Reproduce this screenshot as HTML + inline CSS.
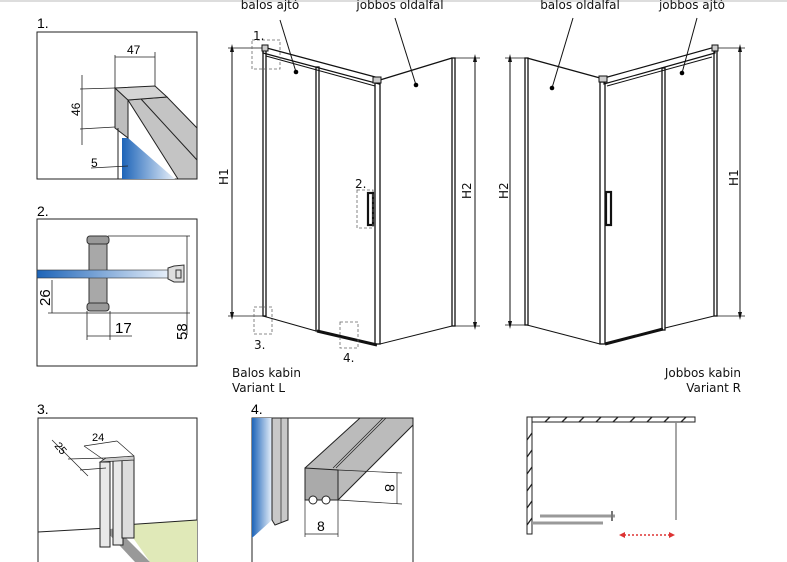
<!DOCTYPE html>
<html><head><meta charset="utf-8"><style>
body{margin:0;background:#fff;}
svg{display:block;font-family:"Liberation Sans",sans-serif;}
.t{font-family:"DejaVu Sans","Liberation Sans",sans-serif;font-size:12px;fill:#111;}
</style></head><body>
<svg width="787" height="562" viewBox="0 0 787 562">
<defs>
<linearGradient id="bl" x1="0" x2="1" y1="0" y2="0"><stop offset="0" stop-color="#1d64b8"/><stop offset="1" stop-color="#e8f0fa"/></linearGradient>
<marker id="a" markerWidth="8" markerHeight="8" refX="4" refY="4" orient="auto-start-reverse"><path d="M0,2 L8,4 L0,6 z" fill="#111"/></marker>
</defs>
<rect x="0" y="0" width="787" height="2" fill="#ddd"/>
<!-- Box 1 -->
<text x="37" y="28" font-size="14">1.</text>
<rect x="37" y="32" width="160" height="147" fill="none" stroke="#222"/>
<polygon points="128,100 167,97 197,128 197,179 178,179" fill="#c4c4c4" stroke="#222"/>
<line x1="141" y1="99" x2="197" y2="160" stroke="#222"/>
<polygon points="122,138 128,138 175,179 122,179" fill="url(#bl)"/>
<polygon points="115,88 128,100 128,138 115,128" fill="#bdbdbd" stroke="#222"/>
<polygon points="115,88 155,86 167,97 128,100" fill="#d4d4d4" stroke="#222"/>
<line x1="118" y1="128" x2="118" y2="179" stroke="#222"/>
<line x1="115" y1="57" x2="155" y2="57" stroke="#222" stroke-width=".8"/>
<line x1="115" y1="55" x2="115" y2="88" stroke="#222" stroke-width=".8"/>
<line x1="155" y1="52" x2="155" y2="86" stroke="#222" stroke-width=".8"/>
<text x="127" y="54" font-size="12">47</text>
<line x1="82" y1="75" x2="82" y2="145" stroke="#222" stroke-width=".8"/>
<line x1="80" y1="89" x2="115" y2="88" stroke="#222" stroke-width=".8"/>
<line x1="80" y1="129" x2="115" y2="127" stroke="#222" stroke-width=".8"/>
<text x="80" y="116" font-size="12" transform="rotate(-90 80 116)">46</text>
<text x="91" y="167" font-size="12">5</text>
<line x1="91" y1="168" x2="128" y2="166" stroke="#222" stroke-width=".8"/>
<!-- Box 2 -->
<text x="37" y="216" font-size="14">2.</text>
<rect x="37" y="219" width="160" height="147" fill="none" stroke="#222"/>
<rect x="89" y="238" width="18" height="70" fill="#a8a8a8" stroke="#333"/>
<rect x="87" y="236" width="22" height="8" rx="3" fill="#999" stroke="#333"/>
<rect x="87" y="303" width="22" height="8" rx="3" fill="#999" stroke="#333"/>
<rect x="37" y="270" width="132" height="8" fill="url(#bl)" stroke="#333" stroke-width=".6"/>
<path d="M168,268 L174,266 L184,265 L184,282 L174,282 L168,279 z" fill="#ddd" stroke="#333"/>
<rect x="176" y="270" width="5" height="8" fill="none" stroke="#333"/>
<line x1="108" y1="236" x2="190" y2="236" stroke="#222" stroke-width=".8"/>
<line x1="48" y1="313" x2="190" y2="313" stroke="#222" stroke-width=".8"/>
<line x1="187" y1="236" x2="187" y2="335" stroke="#222" stroke-width=".8"/>
<text x="187" y="340" font-size="15" transform="rotate(-90 187 340)">58</text>
<line x1="52" y1="280" x2="52" y2="313" stroke="#222" stroke-width=".8"/>
<text x="50" y="306" font-size="15" transform="rotate(-90 50 306)">26</text>
<line x1="87" y1="311" x2="87" y2="340" stroke="#222" stroke-width=".8"/>
<line x1="110" y1="311" x2="110" y2="340" stroke="#222" stroke-width=".8"/>
<line x1="87" y1="336" x2="132" y2="336" stroke="#222" stroke-width=".8"/>
<text x="115" y="333" font-size="15">17</text>
<!-- Left cabin -->
<g stroke="#111" fill="none">
<line x1="232" y1="48" x2="232" y2="316" marker-start="url(#a)" marker-end="url(#a)"/>
<line x1="228" y1="48" x2="263" y2="48" stroke-width=".7"/>
<line x1="228" y1="316" x2="263" y2="316" stroke-width=".7"/>
<line x1="475" y1="58" x2="475" y2="326" marker-start="url(#a)" marker-end="url(#a)"/>
<line x1="455" y1="58" x2="480" y2="58" stroke-width=".7"/>
<line x1="455" y1="326" x2="480" y2="326" stroke-width=".7"/>
<rect x="263" y="50" width="3" height="266" stroke-width="1.3"/>
<polygon points="263,47 379,78 379,84 263,53" stroke-width="1.2"/>
<line x1="266" y1="56" x2="375" y2="86"/>
<rect x="316" y="67" width="3" height="264" stroke-width="1.3"/>
<rect x="375" y="82" width="5" height="262" stroke-width="1.3"/>
<line x1="380" y1="80" x2="452" y2="58" stroke-width="1.3"/>
<rect x="452" y="58" width="3" height="268" stroke-width="1.3"/>
<line x1="263" y1="316" x2="316" y2="331"/>
<line x1="317" y1="331" x2="377" y2="345" stroke-width="3"/>
<line x1="380" y1="344" x2="452" y2="326"/>
<rect x="368" y="193" width="5" height="32" stroke-width="2.2"/>
<rect x="262" y="45" width="6" height="6" fill="#ccc"/>
<rect x="373" y="77" width="8" height="6" fill="#ccc"/>
<g stroke="#666" stroke-dasharray="3,2" stroke-width=".8">
<rect x="252" y="40" width="28" height="29"/><rect x="357" y="190" width="16" height="38"/>
<rect x="254" y="307" width="18" height="27"/><rect x="340" y="322" width="18" height="26"/>
</g>
<line x1="280" y1="20" x2="296" y2="72"/><line x1="395" y1="18" x2="416" y2="85"/>
</g>
<circle cx="296" cy="72" r="2.3"/><circle cx="416" cy="85" r="2.3"/>
<text class="t" x="270" y="9" text-anchor="middle">balos ajtó</text>
<text class="t" x="400" y="9" text-anchor="middle">jobbos oldalfal</text>
<text class="t" x="228" y="185" transform="rotate(-90 228 185)">H1</text>
<text class="t" x="471" y="199" transform="rotate(-90 471 199)">H2</text>
<text class="t" x="253" y="40">1.</text><text class="t" x="355" y="188">2.</text>
<text class="t" x="254" y="349">3.</text><text class="t" x="343" y="362">4.</text>
<text class="t" x="232" y="377">Balos kabin</text><text class="t" x="232" y="392">Variant L</text>
<!-- Right cabin -->
<g stroke="#111" fill="none">
<line x1="510" y1="58" x2="510" y2="325" marker-start="url(#a)" marker-end="url(#a)"/>
<line x1="505" y1="58" x2="527" y2="58" stroke-width=".7"/>
<line x1="505" y1="325" x2="527" y2="325" stroke-width=".7"/>
<line x1="740" y1="48" x2="740" y2="316" marker-start="url(#a)" marker-end="url(#a)"/>
<line x1="717" y1="48" x2="745" y2="48" stroke-width=".7"/>
<line x1="717" y1="316" x2="745" y2="316" stroke-width=".7"/>
<rect x="525" y="58" width="3" height="267" stroke-width="1.3"/>
<line x1="527" y1="58" x2="600" y2="78" stroke-width="1.3"/>
<rect x="600" y="82" width="5" height="262" stroke-width="1.3"/>
<polygon points="604,78 715,47 715,53 604,84" stroke-width="1.2"/>
<line x1="607" y1="86" x2="712" y2="57"/>
<rect x="662" y="68" width="3" height="262" stroke-width="1.3"/>
<rect x="714" y="50" width="3" height="266" stroke-width="1.3"/>
<line x1="527" y1="325" x2="600" y2="344"/>
<line x1="605" y1="344" x2="663" y2="329" stroke-width="3"/>
<line x1="665" y1="328" x2="714" y2="316"/>
<rect x="606" y="192" width="5" height="33" stroke-width="2.2"/>
<rect x="599" y="76" width="8" height="6" fill="#ccc"/>
<rect x="712" y="45" width="6" height="6" fill="#ccc"/>
<line x1="573" y1="18" x2="552" y2="88"/><line x1="697" y1="18" x2="682" y2="73"/>
</g>
<circle cx="552" cy="88" r="2.3"/><circle cx="682" cy="73" r="2.3"/>
<text class="t" x="580" y="9" text-anchor="middle">balos oldalfal</text>
<text class="t" x="692" y="9" text-anchor="middle">jobbos ajtó</text>
<text class="t" x="508" y="199" transform="rotate(-90 508 199)">H2</text>
<text class="t" x="738" y="186" transform="rotate(-90 738 186)">H1</text>
<text class="t" x="741" y="377" text-anchor="end">Jobbos kabin</text>
<text class="t" x="741" y="392" text-anchor="end">Variant R</text>
<!-- Box 3 -->
<text x="37" y="414" font-size="14">3.</text>
<polyline points="38,562 38,418 197,418 197,562" fill="none" stroke="#222"/>
<polygon points="124,525 197,520 197,562 150,562" fill="#e0e9b8"/>
<polygon points="105,530 116,528 150,562 135,562" fill="#999"/>
<line x1="38" y1="532" x2="108" y2="528" stroke="#222"/>
<line x1="124" y1="525" x2="197" y2="520" stroke="#222"/>
<rect x="100" y="462" width="10" height="85" fill="#e8e8e8" stroke="#222"/>
<rect x="113" y="460" width="10" height="85" fill="#e8e8e8" stroke="#222"/>
<rect x="122" y="458" width="12" height="80" fill="#ddd" stroke="#222"/>
<polygon points="100,462 106,458 134,456 134,460" fill="#ccc" stroke="#222" stroke-width=".7"/>
<line x1="68" y1="459" x2="106" y2="458" stroke="#222" stroke-width=".7"/>
<line x1="80" y1="470" x2="106" y2="468" stroke="#222" stroke-width=".7"/>
<line x1="52" y1="440" x2="88" y2="476" stroke="#222" stroke-width=".7"/>
<line x1="84" y1="446" x2="117" y2="441" stroke="#222" stroke-width=".7"/>
<line x1="84" y1="446" x2="104" y2="460" stroke="#222" stroke-width=".7"/>
<line x1="117" y1="441" x2="134" y2="456" stroke="#222" stroke-width=".7"/>
<text x="54" y="446" font-size="11" transform="rotate(50 54 446)">25</text>
<text x="92" y="441" font-size="11">24</text>
<!-- Box 4 -->
<text x="251" y="414" font-size="14">4.</text>
<polyline points="252,562 252,418 413,418 413,562" fill="none" stroke="#222"/>
<polygon points="252,418 272,418 272,520 252,538" fill="url(#bl)"/>
<polygon points="272,418 288,418 288,520 275,525 272,520" fill="#c8c8c8" stroke="#222"/>
<line x1="281" y1="418" x2="281" y2="522" stroke="#222" stroke-width=".7"/>
<polygon points="305,468 360,418 413,418 413,425 338,500" fill="#bbb" stroke="#222"/>
<line x1="333" y1="468" x2="383" y2="418" stroke="#222" stroke-width=".7"/>
<line x1="336" y1="468" x2="386" y2="418" stroke="#222" stroke-width=".7"/>
<polygon points="305,468 338,470 338,500 305,500" fill="#aaa" stroke="#222"/>
<circle cx="313" cy="500" r="4" fill="#fff" stroke="#222"/>
<circle cx="326" cy="500" r="4" fill="#fff" stroke="#222"/>
<line x1="338" y1="470" x2="402" y2="473" stroke="#222" stroke-width=".7"/>
<line x1="338" y1="500" x2="402" y2="504" stroke="#222" stroke-width=".7"/>
<line x1="397" y1="473" x2="397" y2="504" stroke="#222" stroke-width=".7"/>
<text x="385" y="484" font-size="14" transform="rotate(90 385 484)">8</text>
<line x1="305" y1="500" x2="305" y2="537" stroke="#222" stroke-width=".7"/>
<line x1="338" y1="500" x2="338" y2="537" stroke="#222" stroke-width=".7"/>
<line x1="305" y1="534" x2="338" y2="534" stroke="#222" stroke-width=".7"/>
<text x="317" y="531" font-size="14">8</text>
<!-- Plan -->
<rect x="527" y="417" width="168" height="5" fill="#fff" stroke="#222"/>
<rect x="527" y="417" width="5" height="117" fill="#fff" stroke="#222"/>
<g stroke="#222" stroke-width="1.3">
<line x1="545" y1="422" x2="550" y2="417"/><line x1="562" y1="422" x2="567" y2="417"/><line x1="579" y1="422" x2="584" y2="417"/><line x1="596" y1="422" x2="601" y2="417"/><line x1="613" y1="422" x2="618" y2="417"/><line x1="630" y1="422" x2="635" y2="417"/><line x1="647" y1="422" x2="652" y2="417"/><line x1="664" y1="422" x2="669" y2="417"/><line x1="681" y1="422" x2="686" y2="417"/>
<line x1="527" y1="440" x2="532" y2="433"/><line x1="527" y1="457" x2="532" y2="450"/><line x1="527" y1="474" x2="532" y2="467"/><line x1="527" y1="491" x2="532" y2="484"/><line x1="527" y1="508" x2="532" y2="501"/><line x1="527" y1="525" x2="532" y2="518"/>
</g>
<line x1="676" y1="422" x2="676" y2="520" stroke="#888" stroke-width="1.5"/>
<line x1="540" y1="516" x2="615" y2="516" stroke="#999" stroke-width="3"/>
<line x1="612" y1="511" x2="612" y2="521" stroke="#777" stroke-width="2"/>
<line x1="532" y1="523" x2="603" y2="523" stroke="#999" stroke-width="3"/>
<line x1="624" y1="535" x2="670" y2="535" stroke="#d33" stroke-width="1.5" stroke-dasharray="2,2"/>
<path d="M619,535 L625,532 L625,538z M675,535 L669,532 L669,538z" fill="#d33"/>
</svg>
</body></html>
